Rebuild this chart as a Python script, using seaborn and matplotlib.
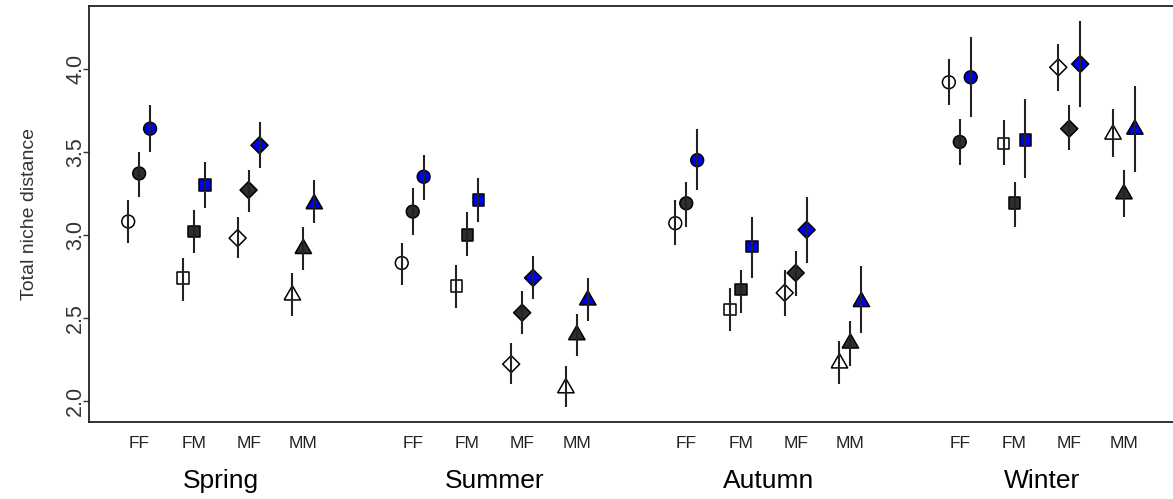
import numpy as np
import pandas as pd
import seaborn as sns
import matplotlib
matplotlib.use('Agg')
import matplotlib.pyplot as plt
import matplotlib.transforms as mtransforms

seasons = ['Spring', 'Summer', 'Autumn', 'Winter']
groups = ['FF', 'FM', 'MF', 'MM']
series = ['open', 'dark', 'blue']

# means, season by season, groups FF FM MF MM
open_mean = [3.08, 2.74, 2.98, 2.65,
             2.83, 2.69, 2.22, 2.09,
             3.07, 2.55, 2.65, 2.24,
             3.92, 3.55, 4.01, 3.62]
open_lo = [2.95, 2.60, 2.86, 2.51,
           2.70, 2.56, 2.10, 1.96,
           2.94, 2.42, 2.51, 2.10,
           3.78, 3.42, 3.87, 3.47]
open_hi = [3.21, 2.86, 3.11, 2.77,
           2.95, 2.82, 2.35, 2.21,
           3.21, 2.68, 2.79, 2.36,
           4.06, 3.69, 4.15, 3.76]

dark_mean = [3.37, 3.02, 3.27, 2.93,
             3.14, 3.00, 2.53, 2.41,
             3.19, 2.67, 2.77, 2.36,
             3.56, 3.19, 3.64, 3.26]
dark_lo = [3.23, 2.89, 3.14, 2.79,
           3.00, 2.87, 2.40, 2.27,
           3.05, 2.53, 2.63, 2.21,
           3.42, 3.05, 3.51, 3.11]
dark_hi = [3.50, 3.15, 3.39, 3.05,
           3.28, 3.14, 2.66, 2.52,
           3.32, 2.79, 2.90, 2.48,
           3.70, 3.32, 3.78, 3.39]

blue_mean = [3.64, 3.30, 3.54, 3.20,
             3.35, 3.21, 2.74, 2.62,
             3.45, 2.93, 3.03, 2.61,
             3.95, 3.57, 4.03, 3.65]
blue_lo = [3.50, 3.16, 3.40, 3.07,
           3.21, 3.08, 2.61, 2.48,
           3.27, 2.74, 2.83, 2.41,
           3.71, 3.34, 3.77, 3.38]
blue_hi = [3.78, 3.44, 3.68, 3.33,
           3.48, 3.34, 2.87, 2.74,
           3.64, 3.11, 3.23, 2.81,
           4.19, 3.82, 4.29, 3.90]

# build a long table
rows = []
offsets = {'open': -0.2, 'dark': 0.0, 'blue': 0.2}
vals = {'open': (open_mean, open_lo, open_hi),
        'dark': (dark_mean, dark_lo, dark_hi),
        'blue': (blue_mean, blue_lo, blue_hi)}
for i, s in enumerate(seasons):
    for j, g in enumerate(groups):
        k = i * 4 + j
        for ser in series:
            m, lo, hi = vals[ser]
            rows.append({'season': s, 'group': g, 'series': ser,
                         'x': i * 5 + j + offsets[ser],
                         'mean': m[k], 'lo': lo[k], 'hi': hi[k]})
df = pd.DataFrame(rows)

sns.set_style('white')
plt.rcParams['font.family'] = ['Liberation Sans', 'DejaVu Sans']

fig, ax = plt.subplots(figsize=(11.73, 4.99), dpi=100)
fig.subplots_adjust(left=0.076, right=1.0, bottom=0.155, top=0.988)

palette = {'open': 'white', 'dark': '#2e2e2e', 'blue': '#0000f0'}
# R style equilateral triangle (wider than matplotlib's '^')
tri = [(-1.0, -0.866), (1.0, -0.866), (0.0, 0.866), (-1.0, -0.866)]
markers = {'FF': 'o', 'FM': 's', 'MF': 'D', 'MM': tri}
msize = {'FF': 85, 'FM': 70, 'MF': 75, 'MM': 140}

for g in groups:
    sub = df[df.group == g]
    sns.scatterplot(data=sub, x='x', y='mean', hue='series', palette=palette,
                    marker=markers[g], s=msize[g], edgecolor='black',
                    linewidth=1.1, legend=False, ax=ax, zorder=2)

# error bars drawn over the points, like the original
ax.vlines(df['x'], df['lo'], df['hi'], color='#222222', linewidth=1.5, zorder=3)

ax.set_xlim(-0.914, 18.897)
ax.set_ylim(1.873, 4.38)
ax.set_yticks([2.0, 2.5, 3.0, 3.5, 4.0])
ax.set_yticklabels(['2.0', '2.5', '3.0', '3.5', '4.0'], rotation=90, va='center',
                   fontsize=15.5, color='#333333')
ax.tick_params(axis='y', left=True, length=4.5, width=1, color='#333333', pad=-2.5)
ax.set_ylabel('Total niche distance', fontsize=14, color='#333333', labelpad=20)
ax.set_xlabel('')
ax.set_xticks([])

# group labels and season labels under the axis
trans = mtransforms.blended_transform_factory(ax.transData, ax.transAxes)
for i, s in enumerate(seasons):
    for j, g in enumerate(groups):
        ax.text(i * 5 + j, -0.0625, g, transform=trans, ha='center', va='baseline',
                fontsize=12.5, color='#222222')
    ax.text(i * 5 + 1.5, -0.159, s, transform=trans, ha='center', va='baseline',
            fontsize=19, color='black')

for side in ['left', 'bottom', 'top']:
    ax.spines[side].set_color('#222222')
    ax.spines[side].set_linewidth(1.3)
ax.spines['right'].set_visible(False)

fig.savefig('out.png', dpi=100)
